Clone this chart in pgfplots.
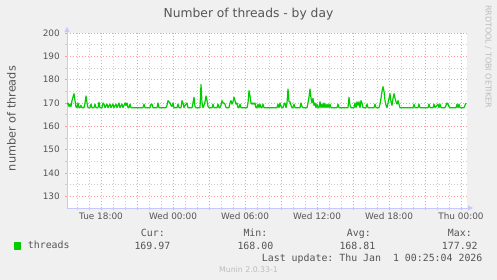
\documentclass[border=0pt]{standalone}
\usepackage{fontspec}
\setmainfont{DejaVu Sans}
\setmonofont{DejaVu Sans Mono}
\usepackage{pgfplots}
\pgfplotsset{compat=1.18}
\usetikzlibrary{arrows.meta}
\definecolor{bgc}{HTML}{F0F0F0}
\definecolor{mgrid}{HTML}{FF9C9C}
\definecolor{mingrid}{HTML}{CCCCCC}
\definecolor{axc}{HTML}{C8C8FF}
\definecolor{lc}{HTML}{00CC00}
\definecolor{txt}{HTML}{555555}
\definecolor{wm}{HTML}{BDBDBD}
\begin{document}
\begin{tikzpicture}[x=1pt,y=1pt]
\useasboundingbox (0,0) rectangle (497,280);
\fill[bgc] (0,0) rectangle (497,280);
\begin{axis}[
  at={(67pt,72pt)}, anchor=south west,
  scale only axis, width=400pt, height=175pt,
  xmin=0, xmax=400, ymin=125, ymax=200,
  axis background/.style={fill=white},
  axis x line=bottom, axis y line=left,
  axis line style={draw=axc, line width=0.8pt},
  x axis line style={-{Triangle[length=5pt,width=5pt]}, shorten >=-6pt},
  y axis line style={-{Triangle[length=5pt,width=5pt]}, shorten >=-6pt},
  xtick={34,70,106,142,178,214,250,286,322,358,394},
  xticklabels={Tue 18:00,,Wed 00:00,,Wed 06:00,,Wed 12:00,,Wed 18:00,,Thu 00:00},
  minor xtick={10,22,46,58,82,94,118,130,154,166,190,202,226,238,262,274,298,310,334,346,370,382},
  ytick={130,140,...,200},
  minor ytick={135,145,...,195},
  grid=both,
  major grid style={draw=mgrid, line width=0.8pt, dash pattern=on 1pt off 2pt},
  minor grid style={draw=mingrid, line width=0.8pt, dash pattern=on 1pt off 2pt},
  tick align=outside,
  major tick length=2pt, minor tick length=2pt,
  major tick style={draw=mgrid, line width=0.8pt},
  minor tick style={draw=mingrid, line width=0.8pt},
  /pgf/number format/assume math mode=true,
  ticklabel style={font=\fontsize{8.9}{10}\selectfont, text=txt},
  xticklabel style={anchor=base, inner sep=0pt, yshift=-9.8pt},
  yticklabel style={anchor=east, inner sep=0pt, xshift=-5pt},
  ylabel={number of threads},
  ylabel style={at={(axis description cs:-0.139,0.511)}, anchor=center, font=\fontsize{11.3}{13}\selectfont, text=txt},
  legend style={at={(axis description cs:-0.1325,-0.2171)}, anchor=west, draw=none, fill=none,
    font=\ttfamily\fontsize{9.9}{11}\selectfont, text=txt, inner sep=0pt,
    /tikz/every odd column/.append style={column sep=4.5pt}},
  legend image code/.code={\fill[lc] (0pt,-3pt) rectangle (6pt,3pt);},
]
\addplot[lc, line width=1.2pt, line join=round] table {
x y
0 169.5
1 170
2 168.5
3 169.5
4 168.5
5 171
6 172.5
7 174
8 171
9 168.3
10 168
11 170
12 168
13 168
14 169
15 168
17 168
18 170
19 173
20 170
21 168
23 168
24 169.5
25 168
27 168
28 169.5
29 168
31 168
32 170.3
33 168
35 168
36 170
37 169.5
38 168
40 169.5
41 168
43 169.5
44 168
46 169.5
47 168
49 169.5
50 168
52 170
53 168
55 169.5
56 168
58 170
59 169
60 170
61 168
62 168
63 169.5
64 168
76 168
77 169.5
78 168
83 168
84 169.5
85 169.5
86 168
90 168
91 170
92 168
99 168
100 169
101 171
102 170.5
103 170
104 169
105 168.5
106 170
107 168
110 168
111 169.5
112 168
114 168
115 171
116 170
117 168
118 169
120 170
121 168
125 168
126 170
127 172.5
128 168.5
129 168
133 168
134 177.92
135 170
136 168
137 169
138 170.5
139 173
140 171
141 168.5
142 168
145 168
146 169.5
147 168
150 168
151 169.5
152 168
153 168
154 169
155 171
156 170
157 170
158 169.5
159 168
162 168
163 170
164 171
165 169.5
166 170.5
167 172.5
168 171
169 169.5
170 170
171 168
172 168
173 169.5
174 168
180 168
181 170
182 175.3
183 173
184 170
185 169.5
186 170
187 169.5
188 170
189 168
190 168
191 169.5
192 168
193 169.5
194 168
195 168
196 169.5
197 168
210 168
211 169.5
212 168
213 170
214 168.5
215 168
216 168
217 169.5
218 170
219 168
220 170
221 176
222 170.5
223 170.5
224 169
225 168
226 168
227 169.5
228 168
233 168
234 170
235 168.5
236 168
240 168
241 170
242 172.5
243 176
244 172
245 170
246 172
247 169
248 170
249 168
250 169.5
251 168
252 168
253 170.5
254 168
255 169.5
256 168
257 170
258 168
259 169.5
260 168
261 169.5
262 168
263 169.5
264 168
270 168
271 169.5
272 168
281 168
282 172.5
283 169
284 168
287 168
288 170
289 168
290 170.5
291 169
292 170.5
293 168
294 171
295 170
296 168
299 168
300 169.5
301 168
307 168
308 169.5
309 168
312 168
313 169.5
314 172
315 175
316 177
317 175
318 171
319 169
320 168
321 170
322 172
323 174
324 170.5
325 169
326 172
327 174
328 172
329 170.5
330 169.5
331 171
332 169.5
333 168
346 168
347 169.5
348 168
351 168
352 169.5
353 168
361 168
362 169.5
363 168
366 168
367 169.5
368 168
371 169.5
372 168
373 169.5
374 168
378 168
379 169
380 170
381 169.5
382 168.5
383 168
389 168
390 169.5
391 168
392 169.5
393 168
397 168
398 169
399 169.97
};
\addlegendentry{threads}
\end{axis}
\node[inner sep=0pt, anchor=base, text=txt, font=\fontsize{12.3}{14}\selectfont] at (248.5,262.5) {Number of threads - by day};
\begin{scope}[every node/.style={inner sep=0pt, anchor=base west, text=txt, font=\ttfamily\fontsize{9.9}{11}\selectfont}]
\node at (140.7,43.4) {Cur:};
\node at (134.3,30.7) {169.97};
\node at (243.3,43.4) {Min:};
\node at (237.3,30.7) {168.00};
\node at (346.7,43.4) {Avg:};
\node at (339.3,30.7) {168.81};
\node at (447.7,43.4) {Max:};
\node at (441.7,30.7) {177.92};
\node at (261.7,18.7) {Last update:\ Thu Jan\ \ 1 00:25:04 2026};
\end{scope}
\node[inner sep=0pt, anchor=base, text=wm, font=\fontsize{7.8}{9}\selectfont] at (248.5,7.8) {Munin 2.0.33-1};
\node[inner sep=0pt, rotate=-90, anchor=center, text=wm, font=\fontsize{8}{9}\selectfont] at (488.3,223.3) {RRDTOOL / TOBI OETIKER};
\end{tikzpicture}
\end{document}
